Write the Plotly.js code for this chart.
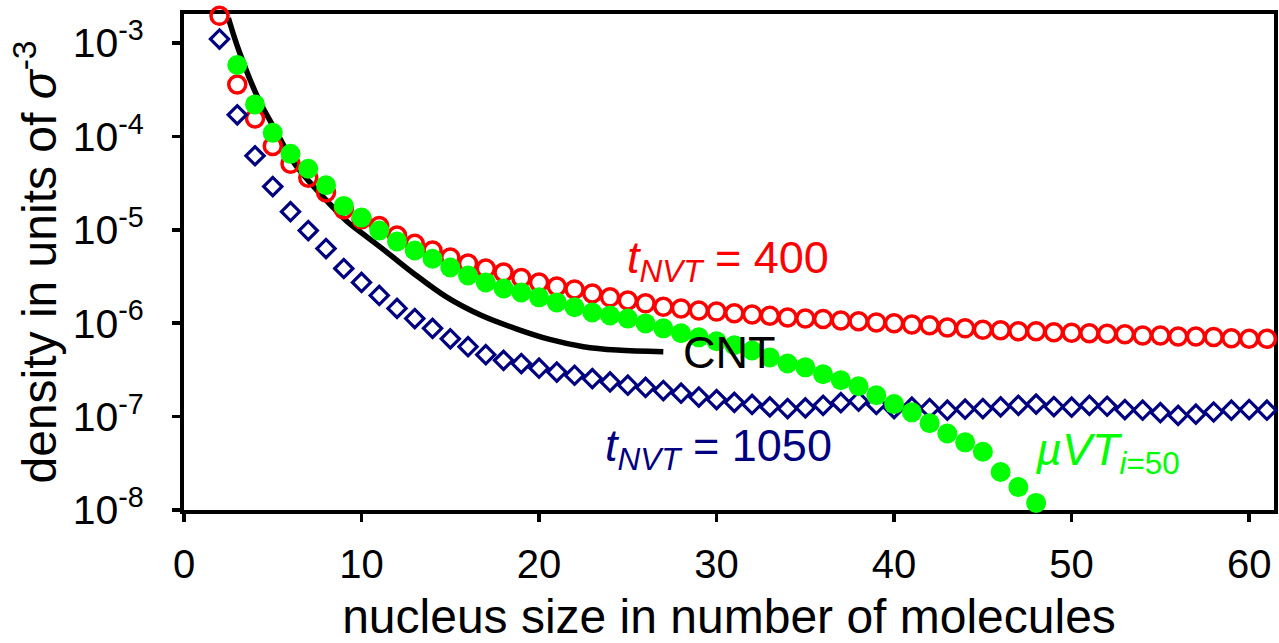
<!DOCTYPE html>
<html>
<head>
<meta charset="utf-8">
<script src="https://cdn.plot.ly/plotly-3.0.1.min.js"></script>
<style>
html,body{margin:0;padding:0;background:#fff;}
#chart{width:1279px;height:643px;}
</style>
</head>
<body>
<div id="chart"></div>
<script>
// nucleus sizes
const sizeRed = [2,3,4,5,6,7,8,9,10,11,12,13,14,15,16,17,18,19,20,21,22,23,24,25,26,27,28,29,30,31,32,33,34,35,36,37,38,39,40,41,42,43,44,45,46,47,48,49,50,51,52,53,54,55,56,57,58,59,60,61];
// t_NVT = 400
const densNVT400 = [1.95e-3,3.6e-4,1.55e-4,7.9e-5,5.1e-5,3.6e-5,2.5e-5,1.65e-5,1.3e-5,1.1e-5,8.7e-6,7.1e-6,6.0e-6,5.05e-6,4.35e-6,3.85e-6,3.49e-6,3.05e-6,2.73e-6,2.47e-6,2.3e-6,2.08e-6,1.89e-6,1.75e-6,1.63e-6,1.5e-6,1.44e-6,1.37e-6,1.33e-6,1.28e-6,1.24e-6,1.2e-6,1.15e-6,1.12e-6,1.11e-6,1.07e-6,1.05e-6,1.02e-6,1.0e-6,9.7e-7,9.5e-7,9.0e-7,8.8e-7,8.5e-7,8.4e-7,8.2e-7,8.2e-7,8.0e-7,7.9e-7,7.8e-7,7.7e-7,7.6e-7,7.4e-7,7.4e-7,7.2e-7,7.2e-7,7.1e-7,6.9e-7,6.8e-7,6.8e-7];
const sizeBlue = sizeRed;
// t_NVT = 1050
const densNVT1050 = [1.1e-3,1.7e-4,6.2e-5,2.9e-5,1.56e-5,9.8e-6,6.3e-6,3.85e-6,2.73e-6,1.98e-6,1.44e-6,1.12e-6,8.8e-7,6.8e-7,5.6e-7,4.6e-7,4.0e-7,3.7e-7,3.3e-7,3.0e-7,2.77e-7,2.55e-7,2.35e-7,2.17e-7,2.05e-7,1.9e-7,1.78e-7,1.62e-7,1.52e-7,1.42e-7,1.35e-7,1.27e-7,1.22e-7,1.24e-7,1.32e-7,1.41e-7,1.46e-7,1.35e-7,1.22e-7,1.26e-7,1.22e-7,1.17e-7,1.2e-7,1.22e-7,1.27e-7,1.32e-7,1.36e-7,1.28e-7,1.26e-7,1.32e-7,1.29e-7,1.19e-7,1.17e-7,1.1e-7,1.03e-7,1.06e-7,1.12e-7,1.17e-7,1.19e-7,1.17e-7];
// muVT i=50
const sizeGreen = [3,4,5,6,7,8,9,10,11,12,13,14,15,16,17,18,19,20,21,22,23,24,25,26,27,28,29,30,31,32,33,34,35,36,37,38,39,40,41,42,43,44,45,46,47,48];
const densMuVT = [5.8e-4,2.2e-4,1.09e-4,6.5e-5,4.5e-5,3.0e-5,1.8e-5,1.35e-5,9.8e-6,7.5e-6,6.0e-6,4.9e-6,3.95e-6,3.24e-6,2.73e-6,2.35e-6,2.13e-6,1.89e-6,1.67e-6,1.48e-6,1.3e-6,1.21e-6,1.12e-6,9.95e-7,8.8e-7,7.8e-7,7.05e-7,6.4e-7,5.8e-7,5.1e-7,4.3e-7,3.7e-7,3.37e-7,2.84e-7,2.45e-7,2.11e-7,1.69e-7,1.36e-7,1.11e-7,8.5e-8,6.6e-8,5.3e-8,4.2e-8,2.55e-8,1.76e-8,1.19e-8];
// CNT curve
const sizeCNT = [2.5,3.1,4.2,5.2,6.2,7.2,8.2,9.2,10.3,11.4,12.9,14.8,16.8,18.8,20.6,22.5,24.4,27.0];
const densCNT = [1.85e-3,8.2e-4,2.5e-4,1.12e-4,5.2e-5,3.05e-5,1.9e-5,1.22e-5,8.4e-6,5.8e-6,3.45e-6,1.9e-6,1.2e-6,8.6e-7,6.7e-7,5.6e-7,5.15e-7,4.95e-7];
// ticks
const yTickVals = [1e-8,1e-7,1e-6,1e-5,1e-4,1e-3];
const yTickText = ['10<sup>-8</sup>','10<sup>-7</sup>','10<sup>-6</sup>','10<sup>-5</sup>','10<sup>-4</sup>','10<sup>-3</sup>'];
const xTickVals = [0,10,20,30,40,50,60];

const FONT = 'Liberation Sans, Arial, sans-serif';

const traces = [
  {x: sizeCNT, y: densCNT, mode:'lines', line:{color:'#000', width:5.5, shape:'spline', smoothing:1}, cliponaxis:true, hoverinfo:'skip'},
  {x: sizeRed, y: densNVT400, mode:'markers', marker:{symbol:'circle-open', size:17, color:'#ff0000', line:{width:3.5, color:'#ff0000'}}, cliponaxis:false},
  {x: sizeBlue, y: densNVT1050, mode:'markers', marker:{symbol:'diamond-open', size:14, color:'#000080', line:{width:3.2, color:'#000080'}}, cliponaxis:false},
  {x: sizeGreen, y: densMuVT, mode:'markers', marker:{symbol:'circle', size:20, color:'#00ff00', line:{width:0}}, cliponaxis:false}
];

const layout = {
  width:1279, height:643,
  margin:{l:184, r:5, t:14, b:133},
  paper_bgcolor:'#fff', plot_bgcolor:'#fff',
  showlegend:false,
  font:{family:FONT, color:'#000'},
  xaxis:{
    range:[0,61.4], tickvals:xTickVals, ticks:'outside', ticklen:8, tickwidth:3.5, tickcolor:'#000',
    showline:true, linewidth:4, linecolor:'#000', mirror:true, showgrid:false, zeroline:false,
    tickfont:{size:40, family:FONT}, ticklabelstandoff:8, layer:'below traces',
    title:{text:'nucleus size in number of molecules', font:{size:48, family:FONT}, standoff:24}
  },
  yaxis:{
    type:'log', range:[-8,-2.69], tickvals:yTickVals, ticktext:yTickText, ticks:'outside', ticklen:8, tickwidth:3.5, tickcolor:'#000',
    showline:true, linewidth:4, linecolor:'#000', mirror:true, showgrid:false, zeroline:false,
    tickfont:{size:41, family:FONT}, ticklabelstandoff:20, layer:'below traces',
    title:{text:'density in units of <i>σ</i><sup>-3</sup>', font:{size:48, family:FONT}, standoff:2}
  },
  annotations:[
    {xref:'paper', yref:'paper', x:0.405, y:0.504, xanchor:'left', yanchor:'middle', showarrow:false,
     text:'<i>t</i><sub><i>NVT</i></sub> = 400', font:{size:45, color:'#ff0000', family:FONT}},
    {xref:'paper', yref:'paper', x:0.500, y:0.318, xanchor:'center', yanchor:'middle', showarrow:false,
     text:'CNT', font:{size:45, color:'#000', family:FONT}},
    {xref:'paper', yref:'paper', x:0.384, y:0.125, xanchor:'left', yanchor:'middle', showarrow:false,
     text:'<i>t</i><sub><i>NVT</i></sub> = 1050', font:{size:45, color:'#000080', family:FONT}},
    {xref:'paper', yref:'paper', x:0.779, y:0.115, xanchor:'left', yanchor:'middle', showarrow:false,
     text:'<i>µVT</i><sub><i>i</i>=50</sub>', font:{size:45, color:'#00ff00', family:FONT}}
  ]
};

Plotly.newPlot('chart', traces, layout, {staticPlot:true, displayModeBar:false});
</script>
</body>
</html>
